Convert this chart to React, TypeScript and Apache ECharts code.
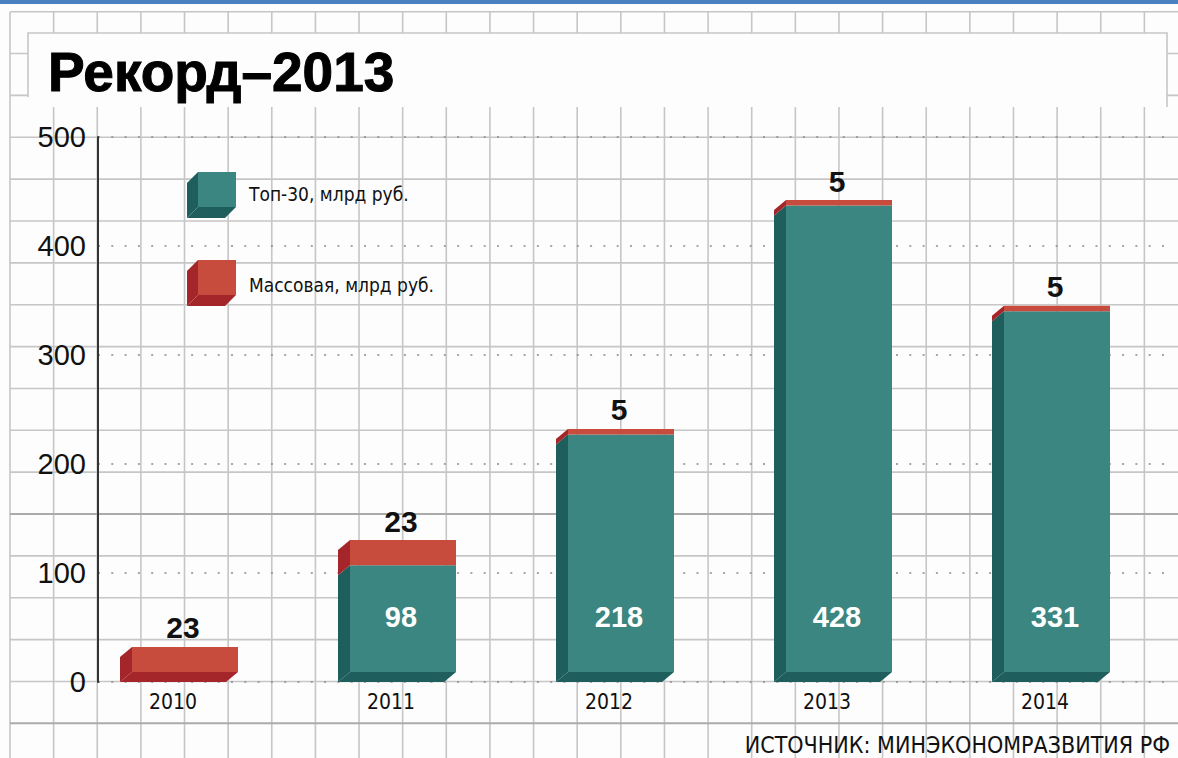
import React, { useEffect, useRef } from "react";
import * as echarts from "echarts";

// ---- data ----
const years = ["2010", "2011", "2012", "2013", "2014"];
const top30 = [0, 98, 218, 428, 331];
const mass = [23, 23, 5, 5, 5];
const yMin = 0;
const yMax = 500;
const yStep = 100;
const titleText = "Рекорд–2013";
const legendNames = ["Топ-30, млрд руб.", "Массовая, млрд руб."];
const sourceText = "ИСТОЧНИК: МИНЭКОНОМРАЗВИТИЯ РФ";

// ---- style ----
const TEAL = "#3b8680";
const TEAL_DARK = "#1e5e5c";
const RED = "#c84c3e";
const RED_DARK = "#a4262a";
const DX = 12;
const DY = 10;
const BAR_W = 106;
const NARROW = '"Liberation Sans Narrow", "DejaVu Sans Condensed", "Liberation Sans", sans-serif';
const SANS = '"Liberation Sans", Arial, sans-serif';

function makeRender(front: string, side: string, labelMode: "top" | "inner") {
  return (params: any, api: any) => {
    const i = api.value(0);
    const start = api.value(1);
    const end = api.value(2);
    const val = api.value(3);
    if (!(end > start)) return { type: "group", children: [] };
    const cx = api.coord([i, 0])[0];
    const base = api.coord([i, 0])[1];
    const yb0 = api.coord([i, start])[1];
    const yb1 = api.coord([i, end])[1];
    const bx = cx - BAR_W / 2;
    const fx = bx + DX;
    const yf0 = yb0 - DY;
    const yf1 = yb1 - DY;
    const children: any[] = [
      {
        type: "polygon",
        shape: { points: [[fx, yf1], [bx, yb1], [bx, yb0], [fx, yf0]] },
        style: { fill: side },
      },
      {
        type: "rect",
        shape: { x: fx, y: yf1, width: BAR_W, height: yf0 - yf1 },
        style: { fill: front },
      },
    ];
    if (start === 0) {
      children.push({
        type: "polygon",
        shape: { points: [[fx, yf0], [fx + BAR_W, yf0], [fx + BAR_W - DX, yb0], [bx, yb0]] },
        style: { fill: side },
      });
    }
    if (labelMode === "top") {
      children.push({
        type: "text",
        style: {
          text: String(val),
          x: fx + BAR_W / 2 - 2,
          y: yf1 - 4,
          align: "center",
          verticalAlign: "bottom",
          font: `bold 30px ${SANS}`,
          fill: "#111",
        },
      });
    } else {
      children.push({
        type: "text",
        style: {
          text: String(val),
          x: fx + BAR_W / 2 - 2,
          y: base - DY - 55,
          align: "center",
          verticalAlign: "middle",
          font: `bold 29px ${SANS}`,
          fill: "#ffffff",
        },
      });
    }
    return { type: "group", children };
  };
}

function cube(x: number, y: number, front: string, side: string) {
  // x,y = top-left of front face
  const w = 38;
  const h = 35;
  const d = 11;
  return [
    { type: "polygon", z: 5, shape: { points: [[x, y], [x - d, y + d], [x - d, y + h + d], [x, y + h]] }, style: { fill: side } },
    { type: "polygon", z: 5, shape: { points: [[x, y + h], [x + w, y + h], [x + w - d, y + h + d], [x - d, y + h + d]] }, style: { fill: side } },
    { type: "rect", z: 5, shape: { x, y, width: w, height: h }, style: { fill: front } },
  ];
}

export default function App() {
  const ref = useRef<HTMLDivElement>(null);
  useEffect(() => {
    if (!ref.current) return;
    const chart = echarts.init(ref.current, null, { renderer: "svg" });

    const graphics: any[] = [];
    // background grid paper
    for (let k = 0; k <= 26; k++) {
      const x = 10 + 43.63 * k;
      graphics.push({ type: "line", z: 0, silent: true, shape: { x1: x, y1: 12, x2: x, y2: 758 }, style: { stroke: "#c6c6c6", lineWidth: 1.6 } });
    }
    for (let k = 0; k <= 17; k++) {
      const y = 11.7 + 41.86 * k;
      const dark = k === 12 || k === 17;
      graphics.push({ type: "line", z: 0, silent: true, shape: { x1: 10, y1: y, x2: 1178, y2: y }, style: { stroke: dark ? "#ababab" : "#c6c6c6", lineWidth: dark ? 2 : 1.6 } });
    }
    // top blue strip
    graphics.push({ type: "rect", z: 1, shape: { x: 0, y: 0, width: 1178, height: 4 }, style: { fill: "#4a7fc0" } });
    // title box
    graphics.push({ type: "rect", z: 1, shape: { x: 28, y: 33, width: 1139, height: 74 }, style: { fill: "#fdfdfd" } });
    graphics.push({ type: "polyline", z: 2, shape: { points: [[28, 97], [28, 33], [1167, 33], [1167, 107]] }, style: { stroke: "#c6c6c6", lineWidth: 1.6, fill: null } });
    graphics.push({ type: "text", z: 3, style: { text: titleText, x: 48, y: 72, verticalAlign: "middle", font: `bold 55px ${SANS}`, fill: "#000", stroke: "#000", lineWidth: 1 } });
    // legend
    graphics.push(...cube(198, 172, TEAL, TEAL_DARK));
    graphics.push(...cube(198, 260, RED, RED_DARK));
    graphics.push({ type: "text", z: 5, style: { text: legendNames[0], x: 249, y: 194, verticalAlign: "middle", font: `19px ${NARROW}`, fill: "#111" } });
    graphics.push({ type: "text", z: 5, style: { text: legendNames[1], x: 249, y: 285, verticalAlign: "middle", font: `19px ${NARROW}`, fill: "#111" } });
    // source
    graphics.push({ type: "text", z: 5, style: { text: sourceText, x: 1170, y: 745, align: "right", verticalAlign: "middle", font: `23px ${NARROW}`, fill: "#111" } });

    chart.setOption({
      animation: false,
      backgroundColor: "#fdfdfd",
      graphic: graphics,
      grid: [
        { left: 98, right: 6, top: 137, bottom: 76 },
        { left: 64, right: 24, top: 137, bottom: 76 },
      ],
      xAxis: [
        { type: "value", gridIndex: 0, min: 0, max: 1, show: false },
        {
          type: "category",
          gridIndex: 1,
          data: years,
          axisLine: { show: false },
          axisTick: { show: false },
          splitLine: { show: false },
          axisLabel: { margin: 9, color: "#111", fontFamily: NARROW, fontSize: 21 },
        },
      ],
      yAxis: [
        {
          type: "value",
          gridIndex: 0,
          min: yMin,
          max: yMax,
          interval: yStep,
          axisLine: { show: true, lineStyle: { color: "#333", width: 2 } },
          axisTick: { show: false },
          axisLabel: { margin: 12, color: "#111", fontFamily: SANS, fontSize: 29 },
          splitLine: { show: true, lineStyle: { color: "#8a8a8a", width: 1.5, type: [2, 11.3] } },
        },
        { type: "value", gridIndex: 1, min: yMin, max: yMax, show: false, splitLine: { show: false } },
      ],
      series: [
        {
          type: "custom",
          name: legendNames[0],
          xAxisIndex: 1,
          yAxisIndex: 1,
          renderItem: makeRender(TEAL, TEAL_DARK, "inner"),
          data: years.map((_, i) => [i, 0, top30[i], top30[i]]),
        },
        {
          type: "custom",
          name: legendNames[1],
          xAxisIndex: 1,
          yAxisIndex: 1,
          renderItem: makeRender(RED, RED_DARK, "top"),
          data: years.map((_, i) => [i, top30[i], top30[i] + mass[i], mass[i]]),
        },
      ],
    });
    return () => chart.dispose();
  }, []);
  return <div ref={ref} style={{ position: "fixed", left: 0, top: 0, width: 1178, height: 758 }} />;
}
